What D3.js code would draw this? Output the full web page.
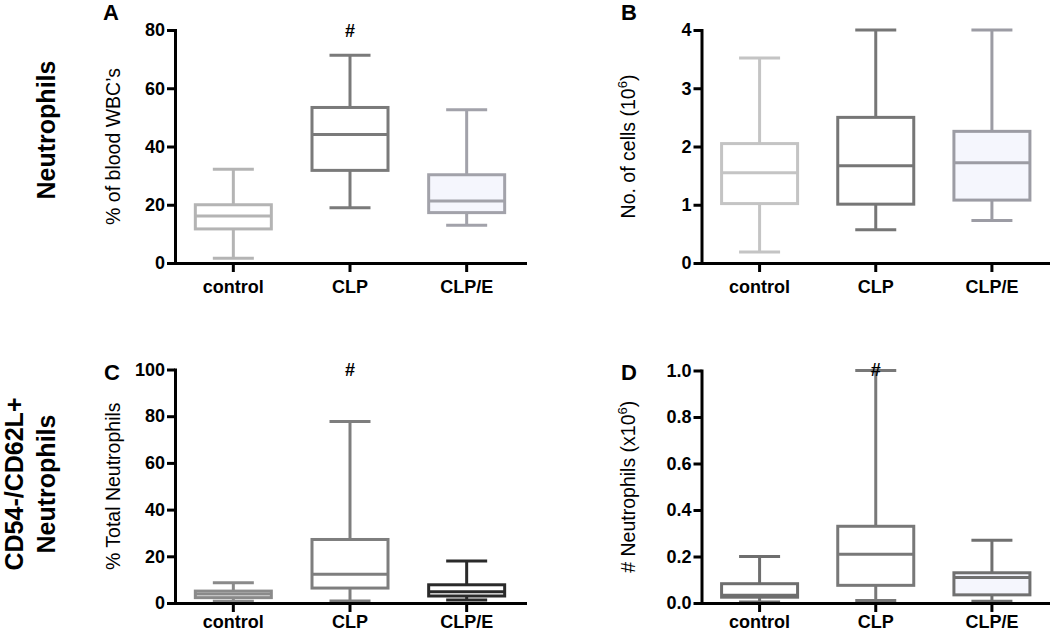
<!DOCTYPE html>
<html>
<head>
<meta charset="utf-8">
<script src="https://cdn.jsdelivr.net/npm/d3@7"></script>
<style>
  body { margin: 0; background: #fff; }
  svg { display: block; }
</style>
</head>
<body>
<svg id="chart" width="1050" height="632"></svg>
<script>
// ---- data ----
const categories = ["control", "CLP", "CLP/E"];
// each row: [min, q1, median, q3, max]
const panelA = [[1.6, 11.7, 16.1, 20.0, 32.2], [19.0, 31.8, 44.1, 53.4, 71.3], [13.0, 17.3, 21.3, 30.3, 52.6]];
const panelB = [[0.19, 1.02, 1.55, 2.05, 3.52], [0.57, 1.01, 1.67, 2.50, 4.0], [0.73, 1.08, 1.72, 2.26, 4.0]];
const panelC = [[0.7, 2.3, 3.9, 5.1, 8.7], [0.9, 6.4, 12.3, 27.2, 77.7], [1.3, 3.0, 4.8, 7.8, 18.0]];
const panelD = [[0.004, 0.025, 0.033, 0.083, 0.20], [0.011, 0.076, 0.21, 0.33, 1.0], [0.008, 0.035, 0.11, 0.13, 0.27]];
const ticksA = [0, 20, 40, 60, 80];
const ticksB = [0, 1, 2, 3, 4];
const ticksC = [0, 20, 40, 60, 80, 100];
const ticksD = [0, 0.2, 0.4, 0.6, 0.8, 1.0];
const panelLetters = ["A", "B", "C", "D"];
const rowLabels = [["Neutrophils"], ["CD54-/CD62L+", "Neutrophils"]];

// ---- layout / style ----
const svg = d3.select("#chart");
const panels = [
  { letter: panelLetters[0], data: panelA, ticks: ticksA, fmt: d3.format("d"), max: 80,
    x0: 175, x1: 525, yTop: 30, yBot: 263, pad: 8,
    title: [["% of blood WBC\u2019s"]], lx: 103, ly: 20, tx: 120, hash: 24,
    stroke: ["#b4b4b4", "#7a7a7a", "#a2a2aa"], fill: ["#fff", "#fff", "#f5f6fd"] },
  { letter: panelLetters[1], data: panelB, ticks: ticksB, fmt: d3.format("d"), max: 4,
    x0: 701.5, x1: 1050, yTop: 30, yBot: 263, pad: 8,
    title: [["No. of cells (10"], ["6", "sup"], [")"]], lx: 621, ly: 20, tx: 635, hash: null,
    stroke: ["#c4c4c4", "#767676", "#9c9ca4"], fill: ["#fff", "#fff", "#f5f6fd"] },
  { letter: panelLetters[2], data: panelC, ticks: ticksC, fmt: d3.format("d"), max: 100,
    x0: 175, x1: 525, yTop: 369.5, yBot: 603, pad: 3,
    title: [["% Total Neutrophils"]], lx: 104, ly: 380, tx: 120, hash: 363,
    stroke: ["#8a8a8a", "#7e7e7e", "#2a2a2a"], fill: ["#fff", "#fff", "#fff"] },
  { letter: panelLetters[3], data: panelD, ticks: ticksD, fmt: d3.format(".1f"), max: 1.0,
    x0: 701.5, x1: 1050, yTop: 370.5, yBot: 603, pad: 3,
    title: [["# Neutrophils (x10"], ["6", "sup"], [")"]], lx: 621, ly: 380, tx: 635, hash: 363,
    stroke: ["#6e6e6e", "#787878", "#707070"], fill: ["#fff", "#fff", "#f5f6fd"] }
];

const boxHalf = 38, capHalf = 20.5, sw = 3;
const tickFont = "'Liberation Sans', Arial, sans-serif";

panels.forEach(p => {
  const y = d3.scaleLinear().domain([0, p.max]).range([p.yBot, p.yTop]);
  const x = d3.scaleBand().domain(categories).range([p.x0, p.x1]).padding(0);
  const g = svg.append("g");

  // boxes
  categories.forEach((c, i) => {
    const [mn, q1, md, q3, mx] = p.data[i];
    const cx = x(c) + x.bandwidth() / 2;
    const col = p.stroke[i];
    const bg = g.append("g").attr("stroke", col).attr("stroke-width", sw).attr("fill", "none");
    bg.append("line").attr("x1", cx).attr("x2", cx).attr("y1", y(mx)).attr("y2", y(q3));
    bg.append("line").attr("x1", cx).attr("x2", cx).attr("y1", y(q1)).attr("y2", y(mn));
    bg.append("line").attr("x1", cx - capHalf).attr("x2", cx + capHalf).attr("y1", y(mx)).attr("y2", y(mx));
    bg.append("line").attr("x1", cx - capHalf).attr("x2", cx + capHalf).attr("y1", y(mn)).attr("y2", y(mn));
    bg.append("rect").attr("x", cx - boxHalf).attr("width", 2 * boxHalf)
      .attr("y", y(q3)).attr("height", y(q1) - y(q3)).attr("fill", p.fill[i]);
    bg.append("line").attr("x1", cx - boxHalf).attr("x2", cx + boxHalf).attr("y1", y(md)).attr("y2", y(md));
  });

  // axes
  const ya = g.append("g").attr("transform", `translate(${p.x0},0)`)
    .call(d3.axisLeft(y).tickValues(p.ticks).tickFormat(p.fmt).tickSize(8).tickSizeOuter(0).tickPadding(2));
  const xa = g.append("g").attr("transform", `translate(0,${p.yBot})`)
    .call(d3.axisBottom(x).tickSize(9).tickSizeOuter(0).tickPadding(p.pad));
  [ya, xa].forEach(a => {
    a.select(".domain").attr("stroke", "#000").attr("stroke-width", sw).attr("stroke-linecap", "square");
    a.selectAll(".tick line").attr("stroke", "#000").attr("stroke-width", sw);
    a.selectAll(".tick text").attr("fill", "#000")
      .style("font-family", tickFont)
      .style("font-weight", "bold").style("font-size", "18px");
  });

  // axis title
  const t = g.append("text")
    .attr("transform", `translate(${p.tx},${(p.yTop + p.yBot) / 2}) rotate(-90)`)
    .attr("text-anchor", "middle")
    .style("font-family", tickFont)
    .style("font-size", "19.5px").attr("fill", "#000");
  p.title.forEach(part => {
    const ts = t.append("tspan").text(part[0]);
    if (part[1] === "sup") ts.attr("dy", -8).style("font-size", "13px");
    else if (part[0] === ")") ts.attr("dy", 8);
  });

  // panel letter
  g.append("text").attr("x", p.lx).attr("y", p.ly).text(p.letter)
    .style("font-family", tickFont).style("font-weight", "bold")
    .style("font-size", "22px").attr("fill", "#000");

  // significance mark
  if (p.hash !== null) {
    g.append("text").attr("x", x("CLP") + x.bandwidth() / 2).attr("y", p.hash + 12.5)
      .attr("text-anchor", "middle").text("#")
      .style("font-family", tickFont).style("font-weight", "bold")
      .style("font-size", "18px").attr("fill", "#000");
  }
});

// row labels
const rowCenters = [130, 484];
const rowBaselines = [[55], [23, 55]];
rowLabels.forEach((lines, r) => {
  lines.forEach((line, k) => {
    svg.append("text")
      .attr("transform", `translate(${rowBaselines[r][k]},${rowCenters[r]}) rotate(-90)`)
      .attr("text-anchor", "middle").text(line)
      .style("font-family", tickFont).style("font-weight", "bold")
      .style("font-size", "25px").attr("fill", "#000");
  });
});
</script>
</body>
</html>
